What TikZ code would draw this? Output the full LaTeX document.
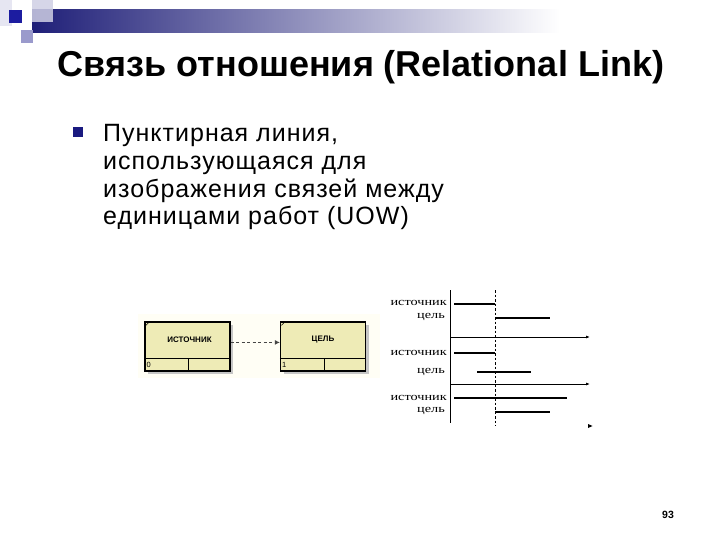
\documentclass[tikz,border=0pt]{standalone}
\usepackage{fontspec}
\usepackage{graphicx}
\setmainfont{Liberation Sans}
\newfontfamily\serifru{Liberation Serif}
\newfontfamily\bodyfont[LetterSpace=4]{Liberation Sans}
\usetikzlibrary{arrows.meta,shadows,calc}
\definecolor{navy}{HTML}{1F1F78}
\definecolor{decodark}{HTML}{1C1CA0}
\definecolor{decomid}{HTML}{9A9ACC}
\definecolor{decolight}{HTML}{CFCFE4}
\definecolor{decopale}{HTML}{E6E6F2}
\definecolor{bulletblue}{HTML}{1A1A80}
\definecolor{uowfill}{HTML}{EEEBB6}
\newcommand{\widelab}[1]{\scalebox{1.3}[1]{#1}}
\tikzset{
  titlefont/.style={font=\fontsize{36}{40}\selectfont\bfseries, inner sep=0pt},
  bodyline/.style={font=\bodyfont\fontsize{25}{28}\selectfont, inner sep=0pt, anchor=base west},
  uow/.style={draw=black, line width=1.2pt, fill=uowfill, inner sep=0pt,
    minimum width=85pt, minimum height=49pt,
    drop shadow={shadow xshift=3pt, shadow yshift=-3pt, fill=gray!45, opacity=1}},
  uowlabel/.style={font=\fontsize{8}{9}\selectfont\bfseries, inner sep=0pt},
  uownum/.style={font=\fontsize{7.5}{8}\selectfont, inner sep=0pt, anchor=west},
  tlabel/.style={font=\serifru\fontsize{11}{12}\selectfont, inner sep=0pt, anchor=east},
  bar/.style={line width=2pt},
  axis/.style={line width=0.9pt, -{Latex[length=4pt,width=3pt]}},
}
\begin{document}
\begin{tikzpicture}[x=1pt,y=-1pt]
\useasboundingbox (0,0) rectangle (720,540);
\fill[white] (0,0) rectangle (720,540);
% decoration top-left
\fill[decopale] (0,0) rectangle (12,26);
\shade[left color=navy, right color=white] (32,10) rectangle (560,33);
\fill[decolight, opacity=0.85] (32,0) rectangle (53,22);
\fill[decodark] (9,10) rectangle (22,23);
\fill[decomid] (21,30) rectangle (33,43);
% title
\node[titlefont, anchor=base] (title) at (361,77) {Связь отношения (Relational Link)};
% bullet + text
\fill[bulletblue] (73,127) rectangle (83,137);
\node[bodyline] (l1) at (103,142) {Пунктирная линия,};
\node[bodyline] (l2) at (103,170) {использующаяся для};
\node[bodyline] (l3) at (103,198) {изображения связей между};
\node[bodyline] (l4) at (103,225) {единицами работ (UOW)};
% left diagram
\fill[yellow!4] (138,314) rectangle (380,378);
\node[uow] (src) at (187.5,346.5) {};
\node[uow] (tgt) at (323,346.5) {};
\foreach \b in {src,tgt}{
  \draw[line width=1pt] ($(\b.south west)+(0,-13)$) -- ($(\b.south east)+(0,-13)$);
  \draw[line width=0.6pt] ($(\b.north west)+(1.5,4)$) -- ($(\b.north west)+(4,1.5)$);
}
\draw[line width=1pt] ($(src.south west)+(44,-13)$) -- ($(src.south west)+(44,0)$);
\draw[line width=1pt] ($(tgt.south west)+(45,-13)$) -- ($(tgt.south west)+(45,0)$);
\node[uowlabel] (srclab) at ($(src.north)+(2,18)$) {ИСТОЧНИК};
\node[uowlabel] (tgtlab) at ($(tgt.north)+(0,18)$) {ЦЕЛЬ};
\node[uownum] (srcnum) at ($(src.south west)+(2,-6.5)$) {0};
\node[uownum] (tgtnum) at ($(tgt.south west)+(2,-6.5)$) {1};
\draw[gray!55!black, line width=1.8pt, dash pattern=on 3pt off 2.5pt, -{Latex[length=5pt,width=5pt]}]
  ($(src.north east)+(0,21)$) -- ($(tgt.north west)+(0,21)$);
% right diagram
\draw[line width=0.9pt] (450,290) -- (450,423);
\draw[line width=0.7pt, dash pattern=on 2.5pt off 2pt] (495,290) -- (495,426);
\node[tlabel] (s1) at (447,303) {\widelab{источник}};
\node[tlabel] (t1) at (445,317) {\widelab{цель}};
\node[tlabel] (s2) at (447,353) {\widelab{источник}};
\node[tlabel] (t2) at (445,372) {\widelab{цель}};
\node[tlabel] (s3) at (447,398) {\widelab{источник}};
\node[tlabel] (t3) at (445,411) {\widelab{цель}};
\draw[bar] (454,304) -- (495,304);
\draw[bar] (495,318) -- (550,318);
\draw[axis] (450,337) -- (590,337);
\draw[bar] (454,353) -- (495,353);
\draw[line width=1.4pt] (477,372) -- (531,372);
\draw[axis] (450,384) -- (590,384);
\draw[bar] (454,398) -- (567,398);
\draw[bar] (495,412) -- (550,412);
\fill (588,424) -- (592.5,426) -- (588,428) -- cycle;
% page number
\node[font=\fontsize{10.5}{12}\selectfont\bfseries, inner sep=0pt] (pnum) at (668,515) {93};
\end{tikzpicture}
\end{document}
